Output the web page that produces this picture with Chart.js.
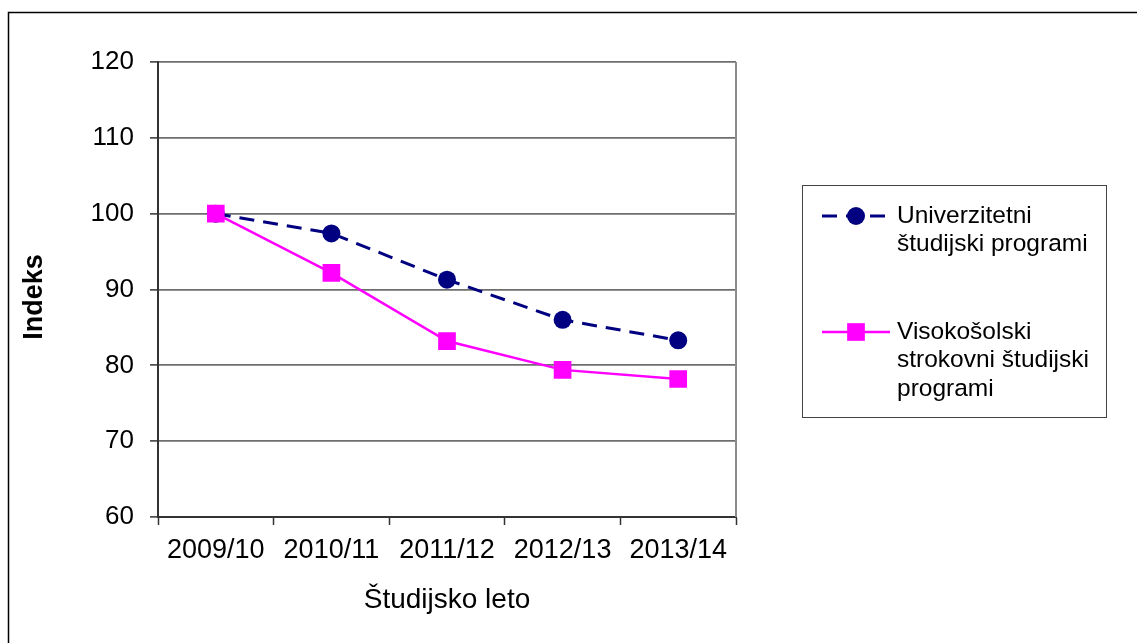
<!DOCTYPE html>
<html>
<head>
<meta charset="utf-8">
<script src="https://cdn.jsdelivr.net/npm/chart.js@4/dist/chart.umd.min.js"></script>
<style>
html,body{margin:0;padding:0;background:#fff;}
#wrap{position:relative;width:1137px;height:643px;}
</style>
</head>
<body>
<div id="wrap"><canvas id="c" width="1137" height="643"></canvas></div>
<script>
const categories = ["2009/10", "2010/11", "2011/12", "2012/13", "2013/14"];
const univerzitetni = [100, 97.4, 91.3, 86.0, 83.3];
const visokosolski = [100, 92.2, 83.2, 79.4, 78.2];
const seriesLabels = [
  ["Univerzitetni", "študijski programi"],
  ["Visokošolski", "strokovni študijski", "programi"]
];
const xTitle = "Študijsko leto";
const yTitle = "Indeks";

const FONT = "'Liberation Sans', Arial, sans-serif";

const framePlugin = {
  id: 'frame',
  beforeDraw(chart) {
    const ctx = chart.ctx;
    ctx.save();
    ctx.strokeStyle = '#000';
    ctx.lineWidth = 1.5;
    ctx.beginPath();
    ctx.moveTo(8.5, 643);
    ctx.lineTo(8.5, 12.5);
    ctx.lineTo(1137, 12.5);
    ctx.stroke();
    ctx.restore();
  },
  afterDraw(chart) {
    const ctx = chart.ctx;
    const a = chart.chartArea;
    ctx.save();
    ctx.strokeStyle = '#8c8c8c';
    ctx.lineWidth = 2;
    ctx.beginPath();
    ctx.moveTo(a.right, a.top);
    ctx.lineTo(a.right, a.bottom);
    ctx.stroke();

    // y axis title
    ctx.save();
    ctx.translate(35, 297);
    ctx.rotate(-Math.PI / 2);
    ctx.font = "bold 27px " + FONT;
    ctx.fillStyle = '#000';
    ctx.textAlign = 'center';
    ctx.textBaseline = 'middle';
    ctx.fillText(yTitle, 0, 0);
    ctx.restore();

    const bx = 802, by = 185, bw = 304, bh = 232;
    ctx.strokeStyle = '#444';
    ctx.lineWidth = 1;
    ctx.strokeRect(bx + 0.5, by + 0.5, bw, bh);

    const entries = [
      {ds: chart.data.datasets[0], y: 216, lines: seriesLabels[0]},
      {ds: chart.data.datasets[1], y: 332, lines: seriesLabels[1]}
    ];
    ctx.font = "24.5px " + FONT;
    ctx.textBaseline = 'middle';
    ctx.textAlign = 'left';
    entries.forEach(e => {
      const ds = e.ds;
      ctx.strokeStyle = ds.borderColor;
      ctx.lineWidth = ds.borderWidth;
      ctx.setLineDash(ds.borderDash || []);
      ctx.beginPath();
      ctx.moveTo(822, e.y);
      ctx.lineTo(890, e.y);
      ctx.stroke();
      ctx.setLineDash([]);
      ctx.fillStyle = ds.pointBackgroundColor;
      ctx.beginPath();
      if (ds.pointStyle === 'circle') {
        ctx.arc(856, e.y, ds.pointRadius, 0, Math.PI * 2);
      } else {
        const s = Math.SQRT1_2 * ds.pointRadius;
        ctx.rect(856 - s, e.y - s, 2 * s, 2 * s);
      }
      ctx.fill();
      ctx.fillStyle = '#000';
      e.lines.forEach((t, i) => ctx.fillText(t, 897, e.y + i * 28.5));
    });
    ctx.restore();
  }
};

new Chart(document.getElementById('c'), {
  type: 'line',
  data: {
    labels: categories,
    datasets: [
      {
        label: seriesLabels[0].join(' '),
        data: univerzitetni,
        order: 1,
        borderColor: '#000080',
        backgroundColor: '#000080',
        pointBackgroundColor: '#000080',
        pointBorderColor: '#000080',
        borderWidth: 3,
        borderDash: [15, 9],
        pointStyle: 'circle',
        pointRadius: 9,
        pointBorderWidth: 0,
        tension: 0
      },
      {
        label: seriesLabels[1].join(' '),
        data: visokosolski,
        order: 0,
        borderColor: '#ff00ff',
        backgroundColor: '#ff00ff',
        pointBackgroundColor: '#ff00ff',
        pointBorderColor: '#ff00ff',
        borderWidth: 2.5,
        pointStyle: 'rect',
        pointRadius: 12.5,
        pointBorderWidth: 0,
        tension: 0
      }
    ]
  },
  options: {
    responsive: false,
    animation: false,
    layout: { padding: { left: 0, top: 62, right: 401, bottom: 0 } },
    plugins: {
      legend: { display: false },
      tooltip: { enabled: false }
    },
    scales: {
      x: {
        offset: true,
        grid: {
          display: true,
          offset: true,
          drawOnChartArea: false,
          drawTicks: true,
          tickLength: 8,
          tickColor: '#333',
          tickWidth: 1.5
        },
        border: { display: true, color: '#333', width: 2 },
        ticks: { color: '#000', font: { family: FONT, size: 27 }, padding: 9, maxRotation: 0, autoSkip: false },
        title: { display: true, text: xTitle, color: '#000', font: { family: FONT, size: 28 }, padding: { top: 0, bottom: 26 } },
        afterFit(scale) { scale.height = 126; }
      },
      y: {
        min: 60,
        max: 120,
        ticks: { stepSize: 10, color: '#000', font: { family: FONT, size: 26 }, padding: 16 },
        grid: { color: '#6e6e6e', lineWidth: 1.8, tickLength: 8, tickColor: '#333', tickWidth: 1.5 },
        border: { display: true, color: '#333', width: 2 },
        title: { display: false },
        afterFit(scale) { scale.width = 158; }
      }
    }
  },
  plugins: [framePlugin]
});
</script>
</body>
</html>
